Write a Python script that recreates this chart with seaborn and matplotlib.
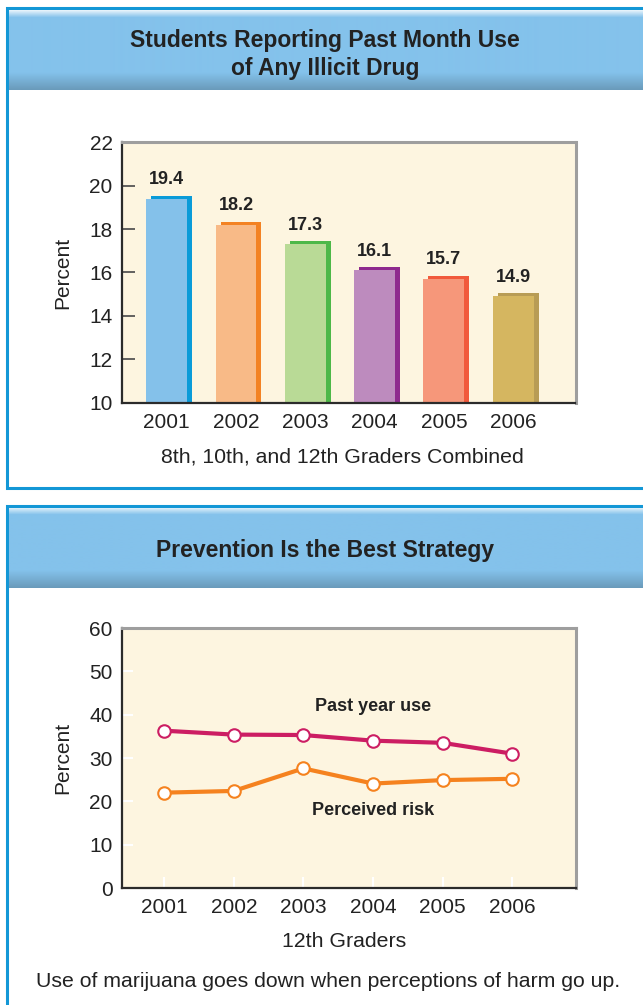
import matplotlib
matplotlib.use('Agg')
import matplotlib.pyplot as plt
import matplotlib.transforms as mtransforms
from matplotlib.colors import to_rgb
from matplotlib.patches import Rectangle
import numpy as np
import pandas as pd
import seaborn as sns

# data
years = ['2001', '2002', '2003', '2004', '2005', '2006']
year_nums = [2001, 2002, 2003, 2004, 2005, 2006]
drug_use = [19.4, 18.2, 17.3, 16.1, 15.7, 14.9]
past_year_use = [36.3, 35.4, 35.3, 34.0, 33.5, 31.0]
perceived_risk = [22.0, 22.4, 27.6, 24.1, 24.9, 25.2]

front_colors = ['#84C1EA', '#F8BA87', '#B9DA96', '#BD8BBE', '#F6977A', '#D5B660']
shadow_colors = ['#0A9BD8', '#F38223', '#4DB848', '#8E2A8E', '#F15A3C', '#B89C55']

sns.set_style('white')
plt.rcParams['font.family'] = ['Liberation Sans', 'DejaVu Sans']

W, H = 643, 1005
fig = plt.figure(figsize=(W / 100, H / 100), dpi=100)


def fx(px):
    return px / W


def fy(py):
    return 1 - py / H


# panel frames
border = '#1397D6'
fig.patches.append(Rectangle((fx(7), fy(488)), 1.2, fy(8) - fy(488), transform=fig.transFigure,
                             facecolor='white', edgecolor=border, lw=2.2, zorder=-2))
fig.patches.append(Rectangle((fx(7), -0.1), 1.2, fy(506) + 0.1, transform=fig.transFigure,
                             facecolor='white', edgecolor=border, lw=2.2, zorder=-2))

# header bands with a soft gradient
stops = [0, 7, 62, 79]
cols = [to_rgb('#E6F3FB'), to_rgb('#84C2EB'), to_rgb('#84C2EB'), to_rgb('#6A9BBB')]
rows = np.arange(80)
grad = np.stack([np.interp(rows, stops, [c[i] for c in cols]) for i in range(3)], axis=-1)
grad = grad[:, None, :]
for top in (10, 508):
    hax = fig.add_axes([fx(8.5), fy(top + 80), 1 - fx(8.5), fy(top) - fy(top + 80)], zorder=-1)
    hax.imshow(grad, aspect='auto', interpolation='bilinear')
    hax.axis('off')

title_kw = dict(ha='center', va='center', fontsize=16.5, fontweight='bold', color='#222222')
fig.text(fx(325), fy(40), 'Students Reporting Past Month Use', **title_kw)
fig.text(fx(325), fy(69), 'of Any Illicit Drug', **title_kw)
fig.text(fx(325), fy(550), 'Prevention Is the Best Strategy', **title_kw)

bg = '#FDF5E0'

# ---- bar chart ----
ax1 = fig.add_axes([fx(121.7), fy(402.7), fx(575.5) - fx(121.7), fy(142.3) - fy(402.7)])
ax1.set_facecolor(bg)
bars = pd.DataFrame({'year': years, 'pct': drug_use})
sns.barplot(data=bars, x='year', y='pct', hue='year', palette=shadow_colors, width=0.59,
            saturation=1, linewidth=0, errorbar=None, legend=False, ax=ax1)
shift = mtransforms.offset_copy(ax1.transData, fig=fig, x=5, y=3, units='dots')
for p in ax1.patches:
    p.set_transform(shift)
sns.barplot(data=bars, x='year', y='pct', hue='year', palette=front_colors, width=0.59,
            saturation=1, linewidth=0, errorbar=None, legend=False, ax=ax1)
for i, v in enumerate(drug_use):
    ax1.annotate(f'{v:.1f}', (i, v), xytext=(0, 10.5), textcoords='offset points',
                 ha='center', va='baseline', fontsize=13, fontweight='bold', color='#222222')

ax1.set_ylim(10, 22)
ax1.set_yticks(range(10, 23, 2))
ax1.set_xlim(-0.65, 5.9)
ax1.set_xticks(range(6))
ax1.set_xticklabels(years)
ax1.set_xticks(np.arange(0.5, 6, 1), minor=True)
ax1.tick_params(axis='x', which='major', length=0, labelsize=15, labelcolor='#222222', pad=7.5)
ax1.tick_params(axis='x', which='minor', direction='in', length=8, width=1.2, color='#333333')
ax1.tick_params(axis='y', direction='in', length=9, width=1.3, color='#555555',
                labelsize=15, labelcolor='#222222', pad=6.5, left=True)
ax1.set_xlabel('')
ax1.set_ylabel('Percent', fontsize=15, color='#222222')
ax1.yaxis.set_label_coords(-0.11, 0.5)

# ---- line chart ----
ax2 = fig.add_axes([fx(121.7), fy(888), fx(575.5) - fx(121.7), fy(628) - fy(888)])
ax2.set_facecolor(bg)
sns.lineplot(x=year_nums, y=past_year_use, color='#CC1D63', linewidth=3, marker='o',
             markersize=9, markerfacecolor='white', markeredgecolor='#CC1D63',
             markeredgewidth=1.5, ax=ax2)
sns.lineplot(x=year_nums, y=perceived_risk, color='#F5821F', linewidth=3, marker='o',
             markersize=9, markerfacecolor='white', markeredgecolor='#F5821F',
             markeredgewidth=1.5, ax=ax2)
ax2.text(2004, 41.8, 'Past year use', ha='center', va='center', fontsize=13,
         fontweight='bold', color='#222222')
ax2.text(2004, 18.0, 'Perceived risk', ha='center', va='center', fontsize=13,
         fontweight='bold', color='#222222')
ax2.set_ylim(0, 60)
ax2.set_yticks(range(0, 61, 10))
ax2.set_xlim(2001 - 0.61, 2006 + 0.91)
ax2.set_xticks(year_nums)
ax2.set_xticklabels(years)
ax2.tick_params(axis='both', direction='in', length=8, width=1.5, color='white',
                labelsize=15, labelcolor='#222222', bottom=True, left=True)
ax2.tick_params(axis='x', pad=7.5)
ax2.tick_params(axis='y', pad=6.5)
ax2.set_ylabel('Percent', fontsize=15, color='#222222')
ax2.yaxis.set_label_coords(-0.11, 0.5)

for ax in (ax1, ax2):
    for s in ('left', 'bottom'):
        ax.spines[s].set_color('#2B2B2B')
        ax.spines[s].set_linewidth(1.6)
    for s in ('top', 'right'):
        ax.spines[s].set_color('#9E9E9E')
        ax.spines[s].set_linewidth(2.2)

note_kw = dict(ha='center', va='center', fontsize=15.3, color='#222222')
fig.text(fx(342), fy(457), '8th, 10th, and 12th Graders Combined', **note_kw)
fig.text(fx(344), fy(941), '12th Graders', **note_kw)
fig.text(fx(328), fy(981), 'Use of marijuana goes down when perceptions of harm go up.', **note_kw)

fig.savefig('out.png', dpi=100)
